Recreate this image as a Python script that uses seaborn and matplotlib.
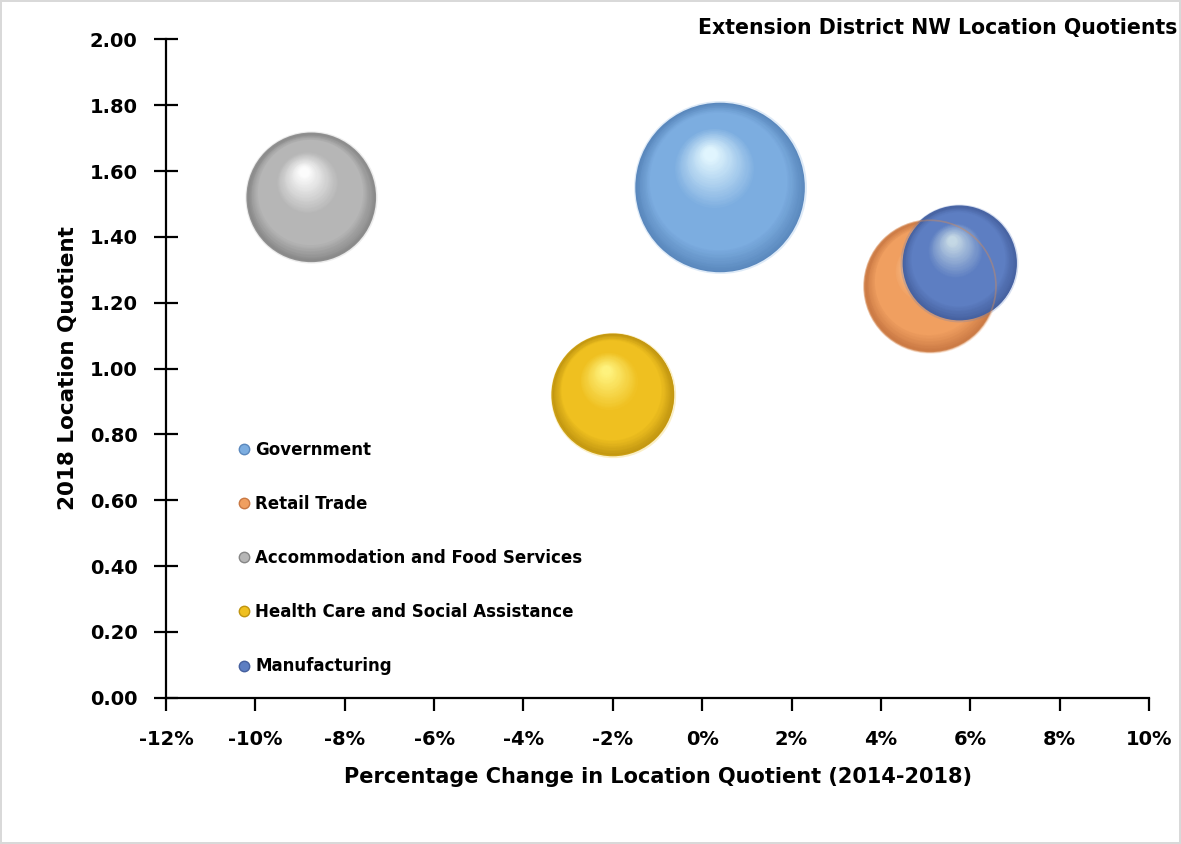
import seaborn as sns
import matplotlib.pyplot as plt
import matplotlib.colors as mcolors
from matplotlib.lines import Line2D
from matplotlib.transforms import offset_copy
import numpy as np
import pandas as pd

# Data
sectors = ['Government', 'Retail Trade', 'Accommodation and Food Services',
           'Health Care and Social Assistance', 'Manufacturing']
pct_change = [0.4, 5.1, -8.75, -2.0, 5.75]          # % change in LQ, 2014-2018
lq_2018 = [1.55, 1.25, 1.52, 0.92, 1.32]            # 2018 location quotient
bubble_size = [100, 60.5, 58.5, 52.5, 46.5]         # relative bubble size (area)

x_ticks = [-12, -10, -8, -6, -4, -2, 0, 2, 4, 6, 8, 10]
y_ticks = [0.0, 0.2, 0.4, 0.6, 0.8, 1.0, 1.2, 1.4, 1.6, 1.8, 2.0]

# rim / body / highlight colours for each sphere
rim = {'Government': '#5a88bd', 'Retail Trade': '#c97843',
       'Accommodation and Food Services': '#868686',
       'Health Care and Social Assistance': '#bf9410', 'Manufacturing': '#45609e'}
body = {'Government': '#7cade0', 'Retail Trade': '#f09f60',
        'Accommodation and Food Services': '#b6b6b6',
        'Health Care and Social Assistance': '#efc020', 'Manufacturing': '#5d7ec2'}
light = {'Government': '#e4f8ff', 'Retail Trade': '#ffdcb8',
         'Accommodation and Food Services': '#ffffff',
         'Health Care and Social Assistance': '#fff480', 'Manufacturing': '#c8dbe6'}

df = pd.DataFrame({'sector': sectors, 'change': pct_change,
                   'lq': lq_2018, 'size': bubble_size})

sns.set_style('white')
plt.rcParams['font.family'] = ['DejaVu Sans']
plt.rcParams['font.weight'] = 'bold'
plt.rcParams.update({'text.color': 'black', 'axes.labelcolor': 'black',
                     'xtick.color': 'black', 'ytick.color': 'black'})

fig = plt.figure(figsize=(11.81, 8.44), dpi=100)
fig.patch.set_edgecolor('#d9d9d9')
fig.patch.set_linewidth(1.5)
ax = fig.add_axes([0.1406, 0.1733, 0.8323, 0.7801])

max_area = 14900  # points^2 of the largest bubble
area = {s: max_area * v / max(bubble_size) for s, v in zip(sectors, bubble_size)}

# base layer (rim colour) through seaborn's hue / size mapping
sns.scatterplot(data=df, x='change', y='lq', hue='sector', size='sector',
                palette=rim, sizes=area, legend=False, linewidth=0,
                ax=ax, zorder=2)

# shading layers to give each bubble a glossy sphere look
n_layers = 60
for i, row in df.iterrows():
    sec = row['sector']
    s0 = area[sec]
    r_pt = np.sqrt(s0) / 2
    z = 2 + i * 0.1
    cmap = mcolors.LinearSegmentedColormap.from_list(
        'sph', [(0, rim[sec]), (0.2, body[sec]), (0.55, body[sec]),
                (1, light[sec])])
    for k in range(1, n_layers):
        f = 1 - k / n_layers * 0.94
        d = (1 - f) * r_pt * 0.43
        tr = offset_copy(ax.transData, fig=fig, x=-d * 0.3, y=d, units='points')
        ax.scatter([row['change']], [row['lq']], s=s0 * f ** 2,
                   color=cmap((1 - f) / 0.94), linewidths=0, transform=tr,
                   zorder=z)
    # soft outer edge
    ax.scatter([row['change']], [row['lq']], s=s0 * 1.04, color=body[sec],
               alpha=0.25, linewidths=0, zorder=z - 0.01)

# faint outline of the retail bubble seen through the manufacturing bubble
ax.scatter([df['change'][1]], [df['lq'][1]], s=area['Retail Trade'],
           facecolors='none', edgecolors='#d08a5a', linewidths=1.2,
           alpha=0.45, zorder=3)

ax.set_xlim(-12, 10)
ax.set_ylim(0, 2)
ax.set_xticks(x_ticks)
ax.set_xticklabels([f'{v}%' for v in x_ticks])
ax.set_yticks(y_ticks)
ax.set_yticklabels([f'{v:.2f}' for v in y_ticks])

for side in ['top', 'right']:
    ax.spines[side].set_visible(False)
for side in ['left', 'bottom']:
    ax.spines[side].set_linewidth(1.6)
    ax.spines[side].set_color('black')

ax.tick_params(axis='y', direction='inout', length=17, width=1.6,
               labelsize=14, pad=12, left=True)
ax.tick_params(axis='x', direction='out', length=9, width=1.6,
               labelsize=14, pad=14, bottom=True)

ax.set_xlabel('Percentage Change in Location Quotient (2014-2018)',
              fontsize=15, fontweight='bold', labelpad=13)
ax.set_ylabel('2018 Location Quotient', fontsize=15.5, fontweight='bold',
              labelpad=8)

fig.text(0.997, 0.967, 'Extension District NW Location Quotients',
         ha='right', va='center', fontsize=14.8, fontweight='bold')

handles = [Line2D([], [], marker='o', linestyle='', markersize=7.5,
                  markerfacecolor=body[s], markeredgecolor=rim[s],
                  markeredgewidth=1) for s in sectors]
ax.legend(handles, sectors, loc='upper left', bbox_to_anchor=(0.062, 0.403),
          frameon=False, labelspacing=2.17, handletextpad=0.2,
          handlelength=1.0, borderpad=0, prop={'weight': 'bold', 'size': 12})

plt.savefig('out.png', dpi=100)
